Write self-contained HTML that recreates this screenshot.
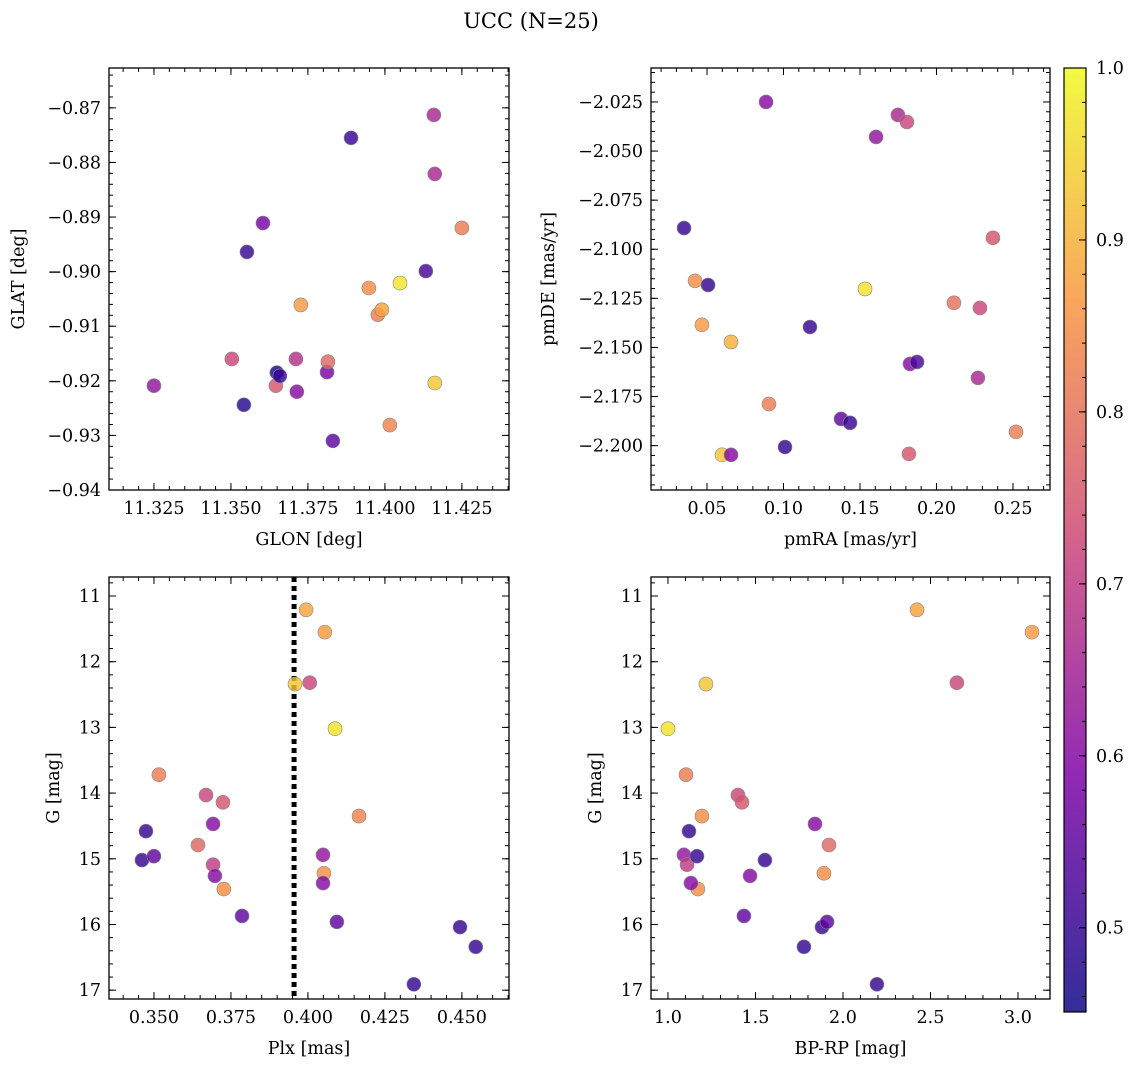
<!DOCTYPE html>
<html><head><meta charset="utf-8"><style>
html,body{margin:0;padding:0;background:#fff;}
svg{display:block;font-family:"DejaVu Serif","Liberation Serif",serif;}
</style></head><body>
<svg id="fig" width="1136" height="1067" viewBox="0 0 1136 1067">
<text x="531" y="28" font-size="21" text-anchor="middle">UCC (N=25)</text>
</svg>
<script>
// ---- data ----
const glon=[11.325,11.3503,11.3542,11.3604,11.3552,11.3646,11.3649,11.3659,11.3711,11.3714,11.3727,11.3812,11.3815,11.3831,11.3890,11.3948,11.3977,11.3990,11.4016,11.4049,11.4133,11.4159,11.4162,11.4162,11.4250];
const glat=[-0.9209,-0.9160,-0.9244,-0.8911,-0.8964,-0.9209,-0.9185,-0.9191,-0.9160,-0.9220,-0.9061,-0.9184,-0.9165,-0.9310,-0.8755,-0.9030,-0.9079,-0.9070,-0.9281,-0.9021,-0.8999,-0.8713,-0.8821,-0.9204,-0.8920];
const probA=[0.62,0.72,0.48,0.58,0.5,0.75,0.47,0.5,0.68,0.6,0.87,0.58,0.78,0.55,0.5,0.85,0.82,0.88,0.83,0.97,0.52,0.66,0.66,0.93,0.82];
const pmra=[0.0350,0.0422,0.0507,0.0467,0.0657,0.0598,0.0657,0.0886,0.0905,0.1010,0.1173,0.1376,0.1435,0.1533,0.1605,0.1748,0.1807,0.1827,0.1873,0.1820,0.2114,0.2284,0.2271,0.2369,0.2520];
const pmde=[-2.0892,-2.1161,-2.1182,-2.1385,-2.1472,-2.2047,-2.2047,-2.0250,-2.1788,-2.2007,-2.1396,-2.1864,-2.1884,-2.1202,-2.0428,-2.0316,-2.0352,-2.1584,-2.1574,-2.2042,-2.1273,-2.1299,-2.1655,-2.0942,-2.1930];
const probB=[0.5,0.85,0.5,0.87,0.9,0.93,0.6,0.6,0.82,0.5,0.5,0.55,0.5,0.97,0.62,0.66,0.72,0.6,0.52,0.75,0.8,0.72,0.66,0.75,0.82];
const plx=[0.3461,0.3474,0.35,0.3516,0.3643,0.3669,0.3692,0.3692,0.3698,0.3724,0.3727,0.3786,0.3958,0.3994,0.4006,0.4055,0.4088,0.4049,0.4052,0.4049,0.4094,0.4166,0.4344,0.4494,0.4545];
const gmagC=[15.02,14.58,14.96,13.72,14.79,14.03,14.47,15.09,15.26,14.14,15.46,15.87,12.34,11.21,12.32,11.55,13.02,14.94,15.22,15.37,15.96,14.35,16.91,16.04,16.34];
const probC=[0.5,0.5,0.55,0.82,0.78,0.72,0.6,0.7,0.6,0.75,0.85,0.55,0.93,0.88,0.72,0.87,0.97,0.62,0.85,0.6,0.55,0.83,0.5,0.5,0.5];
const bprp=[1.0,1.091,1.103,1.194,1.171,1.12,1.109,1.131,1.166,1.217,1.4,1.423,1.434,1.469,1.554,1.84,1.88,1.777,1.909,1.92,1.891,2.194,2.423,2.651,3.08];
const gmagD=[13.02,14.94,13.72,14.35,15.46,14.58,15.09,15.37,14.96,12.34,14.03,14.14,15.87,15.26,15.02,14.47,16.04,16.34,15.96,14.79,15.22,16.91,11.21,12.32,11.55];
const probD=[0.97,0.62,0.82,0.85,0.85,0.5,0.7,0.6,0.5,0.93,0.72,0.75,0.55,0.6,0.5,0.6,0.5,0.5,0.55,0.78,0.85,0.5,0.88,0.72,0.87];
const plxLine=0.3955;
const cMin=0.451, cMax=1.0;
const cbTicks=[0.5,0.6,0.7,0.8,0.9,1.0];

const NS="http://www.w3.org/2000/svg";
const svg=document.getElementById('fig');
function mk(tag,attrs,parent){const e=document.createElementNS(NS,tag);for(const k in attrs)e.setAttribute(k,attrs[k]);(parent||svg).appendChild(e);return e;}
const stops=[[0,[13,8,135]],[0.25,[126,3,168]],[0.5,[204,71,120]],[0.75,[248,149,64]],[1,[240,249,33]]];
function plasma(t){t=Math.max(0,Math.min(1,t));for(let i=0;i<stops.length-1;i++){const a=stops[i],b=stops[i+1];if(t<=b[0]){const f=(t-a[0])/(b[0]-a[0]);return 'rgb('+a[1].map((v,j)=>Math.round(v+(b[1][j]-v)*f)).join(',')+')';}}return 'rgb(240,249,33)';}
function fmt(v,d){return (v<0?'\u2212':'')+Math.abs(v).toFixed(d);}

function panel(p){
  const g=mk('g',{});  
  const sx=v=>p.x0+(v-p.xmin)/(p.xmax-p.xmin)*p.w;
  const sy=v=>p.y0+(v-p.ytop)/(p.ybot-p.ytop)*p.h;
  if(p.vline!==undefined){const l=mk('line',{x1:sx(p.vline),x2:sx(p.vline),y1:p.y0,y2:p.y0+p.h,stroke:'#000','stroke-width':5,'stroke-dasharray':'5,4'},g);}
  for(let i=0;i<p.xs.length;i++){
    const c=mk('circle',{cx:sx(p.xs[i]),cy:sy(p.ys[i]),r:7,fill:plasma((p.c[i]-cMin)/(cMax-cMin)),'fill-opacity':0.82,stroke:'#888','stroke-width':0.6},g);
    
    
  }
  const f=mk('rect',{x:p.x0,y:p.y0,width:p.w,height:p.h,fill:'none',stroke:'#000','stroke-width':1.3},g);
  
  const ticks=(arr,isX,major)=>{
    arr.forEach(v=>{const len=major?7:4;
      if(isX){const x=sx(v);if(x<p.x0-0.5||x>p.x0+p.w+0.5)return;mk('line',{x1:x,x2:x,y1:p.y0+p.h,y2:p.y0+p.h-len,stroke:'#000','stroke-width':1},g);mk('line',{x1:x,x2:x,y1:p.y0,y2:p.y0+len,stroke:'#000','stroke-width':1},g);}
      else{const y=sy(v);if(y<p.y0-0.5||y>p.y0+p.h+0.5)return;mk('line',{x1:p.x0,x2:p.x0+len,y1:y,y2:y,stroke:'#000','stroke-width':1},g);mk('line',{x1:p.x0+p.w,x2:p.x0+p.w-len,y1:y,y2:y,stroke:'#000','stroke-width':1},g);}
    });
  };
  const minors=(maj,n)=>{const out=[];const st=(maj[1]-maj[0])/n;for(let k=-2*n;k<=(maj.length-1)*n+2*n;k++)out.push(maj[0]+k*st);return out;};
  ticks(minors(p.xt,p.xn),true,false);ticks(minors(p.yt,p.yn),false,false);
  ticks(p.xt,true,true);ticks(p.yt,false,true);
  p.xt.forEach(v=>{const t=mk('text',{x:sx(v),y:p.y0+p.h+24,'font-size':17.5,'text-anchor':'middle'},g);t.textContent=fmt(v,p.xd);});
  p.yt.forEach(v=>{const t=mk('text',{x:p.x0-8,y:sy(v)+6,'font-size':17.5,'text-anchor':'end'},g);t.textContent=fmt(v,p.yd);});
  const xl=mk('text',{x:p.x0+p.w/2,y:p.y0+p.h+55,'font-size':17.5,'text-anchor':'middle'},g);xl.textContent=p.xlab;
  const yl=mk('text',{x:p.ylx,y:p.y0+p.h/2,'font-size':17.5,'text-anchor':'middle',transform:'rotate(-90 '+p.ylx+' '+(p.y0+p.h/2)+')'},g);yl.textContent=p.ylab;
}
panel({name:'glon-glat-panel',x0:109,y0:68,w:400,h:422,xmin:11.3104,xmax:11.4403,ytop:-0.8627,ybot:-0.94,xs:glon,ys:glat,c:probA,xt:[11.325,11.35,11.375,11.4,11.425],xn:5,yt:[-0.87,-0.88,-0.89,-0.90,-0.91,-0.92,-0.93,-0.94],yn:5,xd:3,yd:2,xlab:'GLON [deg]',ylab:'GLAT [deg]',ylx:24});
panel({name:'pm-panel',x0:651,y0:68,w:399,h:422,xmin:0.0134,xmax:0.2742,ytop:-2.0077,ybot:-2.2226,xs:pmra,ys:pmde,c:probB,xt:[0.05,0.10,0.15,0.20,0.25],xn:5,yt:[-2.025,-2.05,-2.075,-2.1,-2.125,-2.15,-2.175,-2.2],yn:5,xd:2,yd:3,xlab:'pmRA [mas/yr]',ylab:'pmDE [mas/yr]',ylx:554});
panel({name:'plx-g-panel',x0:109,y0:577,w:400,h:422,xmin:0.3354,xmax:0.4653,ytop:10.711,ybot:17.134,xs:plx,ys:gmagC,c:probC,xt:[0.35,0.375,0.4,0.425,0.45],xn:5,yt:[11,12,13,14,15,16,17],yn:5,xd:3,yd:0,xlab:'Plx [mas]',ylab:'G [mag]',ylx:59,vline:plxLine});
panel({name:'cmd-panel',x0:651,y0:577,w:399,h:422,xmin:0.903,xmax:3.183,ytop:10.711,ybot:17.134,xs:bprp,ys:gmagD,c:probD,xt:[1.0,1.5,2.0,2.5,3.0],xn:5,yt:[11,12,13,14,15,16,17],yn:5,xd:1,yd:0,xlab:'BP-RP [mag]',ylab:'G [mag]',ylx:601});

// colorbar
const cb=mk('g',{});
const defs=mk('defs',{},svg);const lg=mk('linearGradient',{id:'cbg',x1:0,y1:1,x2:0,y2:0},defs);
for(let i=0;i<=20;i++){mk('stop',{offset:i/20,'stop-color':plasma(i/20),'stop-opacity':0.85},lg);}
const cbx=1064,cby=68,cbw=22,cbh=944;
mk('rect',{x:cbx,y:cby,width:cbw,height:cbh,fill:'url(#cbg)',stroke:'#000','stroke-width':1.2},cb);
const cy=v=>cby+(cMax-v)/(cMax-cMin)*cbh;
for(let k=23;k<=50;k++){const v=k*0.02;mk('line',{x1:cbx+cbw,x2:cbx+cbw-4,y1:cy(v),y2:cy(v),stroke:'#000','stroke-width':1},cb);}
cbTicks.forEach(v=>{mk('line',{x1:cbx+cbw,x2:cbx+cbw-7,y1:cy(v),y2:cy(v),stroke:'#000','stroke-width':1},cb);const t=mk('text',{x:cbx+cbw+10,y:cy(v)+6,'font-size':17.5},cb);t.textContent=v.toFixed(1);});
</script>
</body></html>
